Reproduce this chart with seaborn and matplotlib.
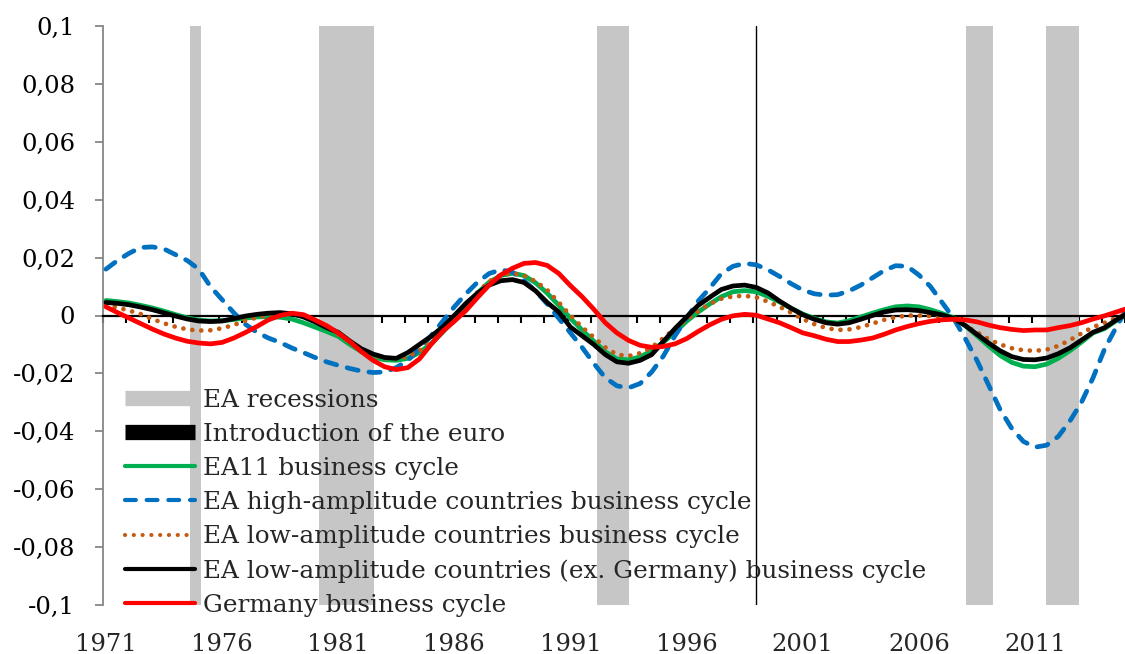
import numpy as np
import pandas as pd
import matplotlib
matplotlib.use("Agg")
import matplotlib.pyplot as plt
from matplotlib.lines import Line2D
import seaborn as sns

# ---------------- data ----------------
years = np.arange(1971.0, 2015.01, 0.5)  # half-yearly observations

ea11 = [0.0052, 0.0048, 0.0043, 0.0035, 0.0026, 0.0015, 0.0003, -0.0008, -0.0016, -0.0019,
        -0.0018, -0.0014, -0.0009, -0.0005, -0.0004, -0.0006, -0.0012, -0.0025, -0.0040, -0.0055,
        -0.0072, -0.0100, -0.0125, -0.0143, -0.0153, -0.0155, -0.0148, -0.0128, -0.0097, -0.0058,
        -0.0012, 0.0035, 0.0078, 0.0115, 0.0138, 0.0146, 0.0138, 0.0113, 0.0077, 0.0035,
        -0.0010, -0.0050, -0.0088, -0.0125, -0.0150, -0.0153, -0.0143, -0.0122, -0.0092, -0.0058,
        -0.0020, 0.0012, 0.0040, 0.0065, 0.0082, 0.0086, 0.0082, 0.0066, 0.0047, 0.0025,
        0.0005, -0.0010, -0.0022, -0.0026, -0.0018, -0.0005, 0.0008, 0.0020, 0.0030, 0.0033,
        0.0030, 0.0020, 0.0007, -0.0008, -0.0035, -0.0070, -0.0105, -0.0138, -0.0162, -0.0175,
        -0.0177, -0.0168, -0.0148, -0.0122, -0.0092, -0.0060, -0.0045, -0.0018, 0.0008]

high_amp = [0.0160, 0.0190, 0.0215, 0.0235, 0.0237, 0.0230, 0.0210, 0.0190, 0.0160, 0.0100,
            0.0055, 0.0010, -0.0030, -0.0058, -0.0078, -0.0093, -0.0112, -0.0128, -0.0145, -0.0160,
            -0.0172, -0.0183, -0.0192, -0.0197, -0.0195, -0.0180, -0.0155, -0.0115, -0.0070, -0.0020,
            0.0030, 0.0075, 0.0115, 0.0145, 0.0158, 0.0150, 0.0120, 0.0085, 0.0040, -0.0010,
            -0.0060, -0.0110, -0.0165, -0.0215, -0.0243, -0.0250, -0.0235, -0.0195, -0.0140, -0.0070,
            -0.0010, 0.0050, 0.0095, 0.0145, 0.0170, 0.0180, 0.0175, 0.0158, 0.0135, 0.0110,
            0.0088, 0.0075, 0.0070, 0.0072, 0.0085, 0.0105, 0.0130, 0.0155, 0.0172, 0.0170,
            0.0140, 0.0100, 0.0045, -0.0010, -0.0080, -0.0155, -0.0240, -0.0325, -0.0390, -0.0435,
            -0.0455, -0.0448, -0.0418, -0.0365, -0.0300, -0.0215, -0.0115, -0.0040, 0.0030]

low_amp = [0.0037, 0.0027, 0.0017, 0.0005, -0.0012, -0.0027, -0.0039, -0.0048, -0.0052, -0.0051,
           -0.0044, -0.0033, -0.0018, -0.0007, 0.0002, 0.0006, 0.0005, -0.0002, -0.0018, -0.0040,
           -0.0065, -0.0093, -0.0120, -0.0138, -0.0148, -0.0150, -0.0142, -0.0122, -0.0092, -0.0053,
           -0.0010, 0.0035, 0.0080, 0.0118, 0.0140, 0.0146, 0.0138, 0.0118, 0.0088, 0.0045,
           0.0000, -0.0040, -0.0075, -0.0110, -0.0135, -0.0140, -0.0130, -0.0110, -0.0078, -0.0045,
           -0.0015, 0.0015, 0.0040, 0.0058, 0.0066, 0.0068, 0.0063, 0.0048, 0.0030, 0.0010,
           -0.0012, -0.0030, -0.0043, -0.0050, -0.0048, -0.0040, -0.0028, -0.0015, -0.0006, 0.0000,
           0.0000, -0.0002, -0.0005, -0.0015, -0.0035, -0.0058, -0.0082, -0.0100, -0.0113, -0.0120,
           -0.0122, -0.0118, -0.0105, -0.0085, -0.0062, -0.0040, -0.0025, -0.0008, 0.0008]

low_amp_ex_de = [0.0045, 0.0042, 0.0037, 0.0029, 0.0020, 0.0009, -0.0002, -0.0012, -0.0019, -0.0021,
                 -0.0019, -0.0011, -0.0002, 0.0004, 0.0008, 0.0010, 0.0006, -0.0005, -0.0022, -0.0042,
                 -0.0058, -0.0088, -0.0115, -0.0133, -0.0145, -0.0148, -0.0128, -0.0100, -0.0072, -0.0040,
                 0.0000, 0.0042, 0.0077, 0.0105, 0.0120, 0.0124, 0.0114, 0.0085, 0.0045, 0.0012,
                 -0.0040, -0.0070, -0.0100, -0.0135, -0.0160, -0.0165, -0.0155, -0.0135, -0.0090, -0.0045,
                 -0.0005, 0.0035, 0.0063, 0.0090, 0.0102, 0.0105, 0.0097, 0.0078, 0.0050, 0.0025,
                 0.0003, -0.0013, -0.0025, -0.0030, -0.0025, -0.0013, 0.0000, 0.0012, 0.0019, 0.0020,
                 0.0017, 0.0010, 0.0002, -0.0010, -0.0035, -0.0065, -0.0095, -0.0122, -0.0142, -0.0152,
                 -0.0153, -0.0147, -0.0132, -0.0112, -0.0085, -0.0058, -0.0042, -0.0015, 0.0008]

germany = [0.0030, 0.0010, -0.0009, -0.0028, -0.0047, -0.0064, -0.0078, -0.0089, -0.0095, -0.0098,
           -0.0093, -0.0078, -0.0059, -0.0038, -0.0015, 0.0000, 0.0008, 0.0003, -0.0015, -0.0035,
           -0.0060, -0.0090, -0.0125, -0.0155, -0.0177, -0.0187, -0.0180, -0.0150, -0.0100, -0.0055,
           -0.0020, 0.0017, 0.0062, 0.0105, 0.0140, 0.0163, 0.0180, 0.0183, 0.0173, 0.0145,
           0.0103, 0.0065, 0.0022, -0.0025, -0.0060, -0.0086, -0.0103, -0.0110, -0.0107, -0.0098,
           -0.0080, -0.0055, -0.0032, -0.0013, -0.0001, 0.0004, 0.0001, -0.0012, -0.0025, -0.0042,
           -0.0060, -0.0070, -0.0082, -0.0090, -0.0090, -0.0085, -0.0078, -0.0065, -0.0050, -0.0038,
           -0.0028, -0.0020, -0.0015, -0.0013, -0.0015, -0.0022, -0.0033, -0.0042, -0.0048, -0.0052,
           -0.0050, -0.0050, -0.0042, -0.0035, -0.0025, -0.0012, -0.0001, 0.0012, 0.0025]

recession_start = [1974.64, 1980.16, 1992.13, 2008.05, 2011.49]
recession_end = [1975.11, 1982.56, 1993.50, 2009.18, 2012.90]
euro_year = 1999.0

x_tick_years = [1971, 1976, 1981, 1986, 1991, 1996, 2001, 2006, 2011]
y_ticks = [-0.1, -0.08, -0.06, -0.04, -0.02, 0.0, 0.02, 0.04, 0.06, 0.08, 0.1]
y_tick_labels = ["-0,1", "-0,08", "-0,06", "-0,04", "-0,02", "0", "0,02", "0,04", "0,06", "0,08", "0,1"]

labels = ["EA recessions", "Introduction of the euro", "EA11 business cycle",
          "EA high-amplitude countries business cycle",
          "EA low-amplitude countries business cycle",
          "EA low-amplitude countries (ex. Germany) business cycle",
          "Germany business cycle"]

# ---------------- style ----------------
sns.set_theme(style="white")
plt.rcParams['font.family'] = ['DejaVu Serif']
FS = 17.5
LFS = 17.8

fig = plt.figure(figsize=(11.25, 6.54), dpi=100)
ax = fig.add_axes([103 / 1125, 49 / 654, 1022 / 1125, 579 / 654])
ax.set_facecolor("white")

GRAY = "#c6c6c6"
for s, e in zip(recession_start, recession_end):
    ax.axvspan(s, e, color=GRAY, lw=0, zorder=1)

ax.axvline(euro_year, color="black", lw=1.0, zorder=1.6)

df = pd.DataFrame({"year": years, "ea11": ea11, "high": high_amp, "low": low_amp,
                   "lowx": low_amp_ex_de, "de": germany})

LW = 3.4
specs = [
    ("ea11", dict(color="#00b050", lw=LW, linestyle="-")),
    ("high", dict(color="#0070c0", lw=LW, linestyle=(0, (2.4, 2.3)), dash_capstyle="round")),
    ("low", dict(color="#c55a11", lw=LW, linestyle=(0, (0.01, 1.9)), dash_capstyle="round")),
    ("lowx", dict(color="black", lw=LW, linestyle="-")),
    ("de", dict(color="#ff0000", lw=LW, linestyle="-")),
]
for col, kw in specs:
    sns.lineplot(data=df, x="year", y=col, ax=ax, legend=False, zorder=3, **kw)

ax.set_xlim(1970.875, 2014.83)
ax.set_ylim(-0.1, 0.1)

# y axis
ax.set_yticks(y_ticks)
ax.set_yticklabels(y_tick_labels, fontsize=FS)
ax.tick_params(axis="y", direction="out", length=6, width=1.3, color="#868686",
               pad=14, left=True, labelcolor="black")
for sp in ["top", "right"]:
    ax.spines[sp].set_visible(False)
ax.spines["left"].set_color("#868686")
ax.spines["left"].set_linewidth(1.3)

# zero axis with yearly tick marks
ax.spines["bottom"].set_position(("data", 0))
ax.spines["bottom"].set_color("black")
ax.spines["bottom"].set_linewidth(1.6)
ax.set_xticks(np.arange(1971, 2016) - 0.125)
ax.tick_params(axis="x", direction="out", length=5, width=1.5, color="black",
               bottom=True, labelbottom=False)
ax.set_xlabel("")
ax.set_ylabel("")

# year labels at the bottom of the plot
sec = ax.secondary_xaxis("bottom")
sec.set_xticks(x_tick_years)
sec.set_xticklabels([str(y) for y in x_tick_years], fontsize=FS)
sec.tick_params(axis="x", length=0, pad=20)
sec.spines["bottom"].set_visible(False)

# legend
HLW = 3.0
handles = [
    Line2D([], [], color=GRAY, lw=11, solid_capstyle="butt"),
    Line2D([], [], color="black", lw=11, solid_capstyle="butt"),
    Line2D([], [], color="#00b050", lw=HLW),
    Line2D([], [], color="#0070c0", lw=HLW, linestyle=(0, (2.6, 2.6)), dash_capstyle="round"),
    Line2D([], [], color="#c55a11", lw=HLW, linestyle=(0, (0.01, 2.1)), dash_capstyle="round"),
    Line2D([], [], color="black", lw=HLW),
    Line2D([], [], color="#ff0000", lw=HLW),
]
leg = fig.legend(handles, labels, loc="lower left", bbox_to_anchor=(125 / 1125, 37 / 654),
                 bbox_transform=fig.transFigure, frameon=False, fontsize=LFS,
                 handlelength=2.85, handletextpad=0.3, labelspacing=0.45,
                 borderpad=0, borderaxespad=0)

fig.savefig("out.png", dpi=100, facecolor="white")
